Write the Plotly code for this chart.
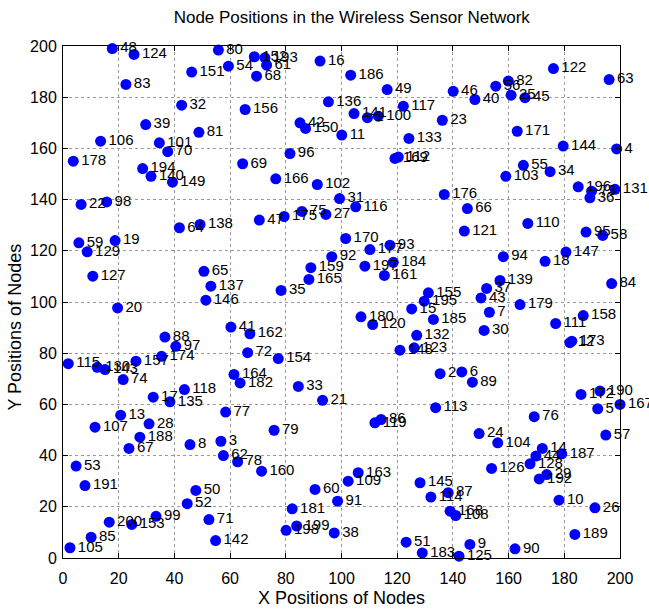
import plotly.graph_objects as go

# Sensor node identifiers and their (x, y) positions in the 200 x 200 field
node_ids = [
    48, 124, 83, 151, 32, 39, 81, 106, 101, 70, 178, 194, 140, 149, 22, 98,
    80, 54, 134, 152, 193, 61, 68, 16, 156, 136, 42, 150, 11, 96, 69, 166, 102, 31,
    186, 49, 46, 40, 141, 1, 100, 117, 23, 133, 169, 112, 176, 66, 116,
    122, 63, 56, 82, 25, 45, 171, 144, 4, 55, 34, 103, 196, 73, 36, 131,
    59, 129, 19, 127, 20, 64, 138, 88, 97, 174, 157, 115, 130, 143, 74,
    47, 175, 75, 27, 65, 137, 146, 35, 159, 165, 92, 41, 162, 72, 154, 164, 182, 33,
    170, 177, 93, 197, 184, 161, 155, 195, 15, 185, 180, 120, 132, 148, 123, 2, 6, 89,
    121, 110, 95, 58, 94, 18, 147, 84, 139, 37, 43, 7, 30, 179, 111, 158, 173, 12,
    77, 8, 3, 62, 78, 160, 79, 21, 60, 50, 52, 71, 142, 181, 198, 199, 38, 109, 163, 91,
    17, 135, 118, 13, 107, 28, 188, 67, 53, 191, 200, 153, 99, 85, 105,
    113, 119, 86, 145, 114, 87, 168, 108, 51, 183, 125, 9,
    172, 190, 5, 167, 76, 57, 24, 104, 14, 187, 44, 128, 126, 192, 29, 10, 26, 189, 90,
]

x_pos = [
    17.7, 25.5, 22.6, 46.2, 42.6, 29.7, 48.8, 13.5, 34.6, 37.6, 3.7, 28.6, 31.6, 39.3, 6.5, 15.7,
    55.8, 59.4, 74.3, 68.7, 72.5, 73.1, 69.5, 92.3, 65.4, 95.3, 85.1, 87.1, 100.1, 81.5, 64.5, 76.4, 91.3, 99.3,
    103.3, 116.4, 140.1, 147.9, 104.5, 109.3, 113.2, 122.2, 136.2, 124.2, 119.2, 120.4, 136.9, 145.2, 105.1,
    176.1, 196.1, 155.4, 159.9, 160.9, 165.9, 163.1, 179.6, 198.8, 165.3, 174.9, 159.0, 185.0, 189.8, 189.2, 198.2,
    5.7, 8.7, 18.7, 10.7, 19.6, 41.8, 49.2, 36.6, 40.5, 35.4, 26.2, 1.9, 12.3, 15.1, 21.6,
    70.5, 79.4, 85.8, 94.4, 50.6, 53.1, 51.3, 78.3, 89.0, 88.3, 96.5, 60.3, 67.1, 66.3, 77.3, 61.4, 63.6, 84.5,
    101.5, 110.2, 117.4, 108.4, 118.6, 115.4, 131.2, 129.7, 125.2, 133.0, 107.0, 111.2, 127.0, 121.0, 126.1, 135.4, 143.2, 147.0,
    144.1, 166.9, 187.8, 193.8, 158.1, 173.1, 180.6, 197.0, 156.9, 152.1, 150.1, 153.1, 151.2, 164.1, 176.9, 186.8, 182.7, 182.0,
    58.4, 45.6, 56.7, 57.6, 62.7, 71.3, 75.8, 93.2, 90.5, 47.7, 44.6, 52.4, 54.8, 82.3, 80.1, 83.9, 97.4, 102.4, 106.0, 98.6,
    32.4, 38.4, 43.6, 20.7, 11.5, 30.9, 27.6, 23.7, 4.7, 7.9, 16.6, 24.7, 33.4, 10.1, 2.5,
    133.8, 112.0, 114.2, 128.2, 132.1, 138.3, 139.0, 141.0, 123.2, 129.0, 142.2, 146.1,
    186.0, 192.8, 192.0, 200.0, 169.2, 194.9, 149.4, 156.1, 172.1, 179.1, 169.8, 167.7, 153.9, 171.0, 173.7, 178.1, 191.0, 183.8, 162.3,
]

y_pos = [
    199.0, 196.7, 185.0, 189.8, 176.9, 169.3, 166.3, 162.8, 162.2, 158.7, 155.0, 152.1, 149.1, 146.8, 138.1, 139.1,
    198.4, 192.1, 200.3, 195.8, 195.4, 192.5, 188.2, 194.1, 175.2, 178.2, 170.0, 167.8, 165.2, 158.0, 154.0, 148.1, 145.9, 140.4,
    188.6, 183.0, 182.3, 179.1, 173.6, 172.0, 172.6, 176.5, 171.0, 163.9, 156.1, 156.6, 142.0, 136.5, 137.2,
    191.2, 186.9, 184.3, 186.3, 180.8, 179.8, 166.7, 160.9, 159.8, 153.4, 150.9, 149.1, 145.0, 143.3, 140.7, 144.0,
    123.1, 119.6, 124.0, 110.1, 97.7, 129.0, 130.3, 86.3, 82.7, 78.8, 76.9, 75.9, 74.5, 73.6, 69.7,
    132.0, 133.4, 135.4, 134.2, 112.0, 106.2, 100.7, 104.5, 113.4, 108.8, 117.7, 90.2, 87.6, 80.2, 77.9, 71.7, 68.4, 67.0,
    124.8, 120.5, 122.2, 114.0, 115.5, 110.4, 103.6, 100.3, 97.3, 93.2, 94.2, 91.2, 87.0, 81.2, 82.1, 72.0, 72.7, 68.7,
    127.7, 130.7, 127.3, 126.0, 117.7, 115.9, 119.5, 107.2, 108.4, 105.3, 101.6, 96.0, 88.9, 99.0, 91.6, 94.7, 84.7, 84.1,
    57.0, 44.3, 45.6, 40.0, 37.6, 33.9, 49.9, 61.6, 26.8, 26.4, 21.2, 15.0, 6.8, 19.2, 10.8, 12.5, 9.8, 30.0, 33.3, 22.2,
    62.8, 61.0, 65.8, 55.8, 51.1, 52.4, 47.2, 42.8, 35.9, 28.3, 14.0, 13.1, 16.3, 8.1, 4.0,
    58.7, 52.8, 54.1, 29.4, 23.8, 25.5, 18.3, 16.6, 6.2, 2.0, 0.7, 5.3,
    63.9, 65.2, 58.3, 60.0, 55.2, 48.0, 48.6, 45.0, 42.8, 40.7, 39.8, 36.8, 35.0, 30.9, 32.6, 22.6, 19.6, 9.2, 3.6,
]

axis_ticks = [0, 20, 40, 60, 80, 100, 120, 140, 160, 180, 200]

FONT = "Liberation Sans, Arial, sans-serif"

fig = go.Figure()
fig.add_trace(
    go.Scatter(
        x=x_pos,
        y=y_pos,
        mode="markers+text",
        text=[str(n) for n in node_ids],
        textposition="middle right",
        textfont=dict(family=FONT, size=15, color="black"),
        marker=dict(size=11, color="#0000FF", line=dict(width=0)),
        cliponaxis=False,
        hoverinfo="skip",
        showlegend=False,
    )
)

axis_common = dict(
    range=[0, 200],
    tickvals=axis_ticks,
    ticks="inside",
    ticklen=5,
    tickcolor="black",
    showline=True,
    linecolor="black",
    linewidth=1,
    mirror="ticks",
    showgrid=True,
    gridcolor="#9a9a9a",
    griddash="dot",
    gridwidth=1,
    zeroline=False,
    automargin=False,
    tickfont=dict(family=FONT, size=16, color="black"),
)

fig.update_xaxes(**axis_common, ticklabelstandoff=6)
fig.update_yaxes(**axis_common, ticklabelstandoff=2)

fig.update_layout(
    width=649,
    height=609,
    margin=dict(l=63, r=29, t=46, b=51),
    paper_bgcolor="white",
    plot_bgcolor="white",
    title=dict(
        text="Node Positions in the Wireless Sensor Network",
        font=dict(family=FONT, size=17, color="black"),
        x=0.542,
        xanchor="center",
        y=1 - 17 / 609,
        yanchor="middle",
        yref="container",
    ),
    annotations=[
        dict(
            text="X Positions of Nodes",
            xref="paper", yref="paper",
            x=0.5, y=-40 / 512,
            xanchor="center", yanchor="middle",
            showarrow=False,
            font=dict(family=FONT, size=18, color="black"),
        ),
        dict(
            text="Y Positions of Nodes",
            xref="paper", yref="paper",
            x=-48 / 557, y=0.45,
            xanchor="center", yanchor="middle",
            textangle=-90,
            showarrow=False,
            font=dict(family=FONT, size=18, color="black"),
        ),
    ],
)

fig.write_html("out.html")
